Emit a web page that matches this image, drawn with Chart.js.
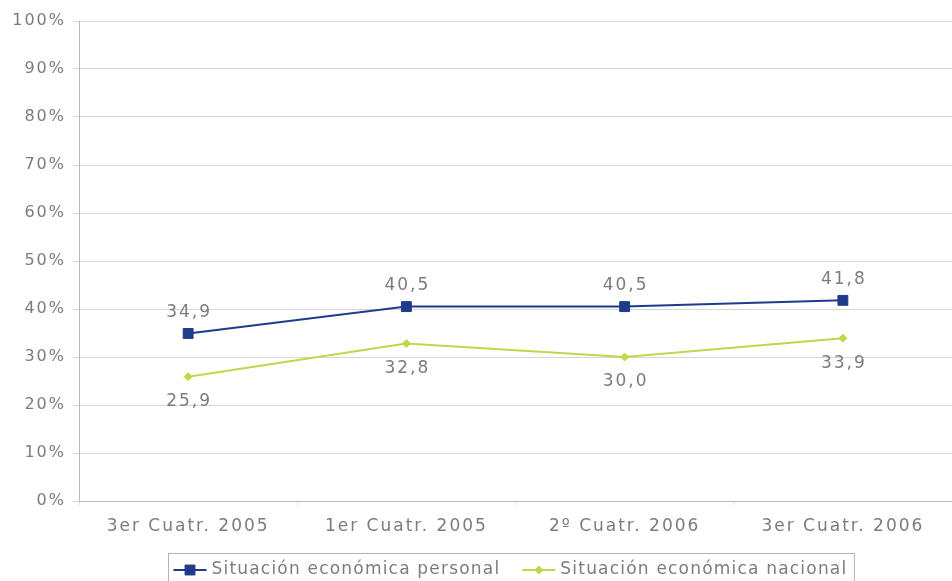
<!DOCTYPE html>
<html>
<head>
<meta charset="utf-8">
<script src="https://cdn.jsdelivr.net/npm/chart.js@4/dist/chart.umd.min.js"></script>
<style>
  html, body { margin: 0; padding: 0; background: #fff; overflow: hidden; }
  #wrap { width: 952px; height: 581px; position: relative; overflow: hidden; }
  /* a few px wider than the window: the line marker overflow pads the right side */
  #inner { width: 960px; height: 581px; position: absolute; left: 0; top: 0; }
</style>
</head>
<body>
<div id="wrap"><div id="inner"><canvas id="chart"></canvas></div></div>
<script>
// ---- data ----
const periods     = ["3er Cuatr. 2005", "1er Cuatr. 2005", "2º Cuatr. 2006", "3er Cuatr. 2006"];
const personal    = [34.9, 40.5, 40.5, 41.8];
const nacional    = [25.9, 32.8, 30.0, 33.9];
const seriesNames = ["Situación económica personal", "Situación económica nacional"];

const BLUE  = "#1f3b8c";
const GREEN = "#c3d64b";
const TEXT  = "#7c7c7c";
const FONT  = "'DejaVu Sans', Verdana, sans-serif";

// wide, airy lettering for every text on the canvas
const spacing = {
  id: "spacing",
  beforeUpdate(chart) { chart.ctx.letterSpacing = "2px"; },
  beforeDraw(chart)   { chart.ctx.letterSpacing = "2px"; }
};

// value labels: blue above the point, green below
const valueLabels = {
  id: "valueLabels",
  afterDatasetsDraw(chart) {
    const ctx = chart.ctx;
    ctx.save();
    ctx.font = "17px " + FONT;
    ctx.letterSpacing = "2px";
    ctx.fillStyle = TEXT;
    ctx.textAlign = "center";
    ctx.textBaseline = "middle";
    chart.data.datasets.forEach((ds, i) => {
      const dy = i === 0 ? -21 : 25;
      chart.getDatasetMeta(i).data.forEach((pt, j) => {
        ctx.fillText(ds.data[j].toFixed(1).replace(".", ","), pt.x + 1, pt.y + dy);
      });
    });
    ctx.restore();
  }
};

// boxed legend under the axis, line + marker per series
const boxLegend = {
  id: "boxLegend",
  afterDraw(chart) {
    const ctx = chart.ctx;
    ctx.save();
    ctx.font = "17px " + FONT;
    ctx.letterSpacing = "1.2px";
    ctx.textBaseline = "middle";
    const sw = 33, gap = 5, space = 22, padL = 5, padR = 7;
    const widths = seriesNames.map(n => sw + gap + ctx.measureText(n).width);
    const total = widths.reduce((a, b) => a + b, 0) + space + padL + padR;
    const area = chart.chartArea;
    const x0 = Math.round((area.left + area.right - total) / 2 - 5) + 0.5;
    const y0 = 553.5, h = 34;
    ctx.strokeStyle = "#b5b5b5";
    ctx.lineWidth = 1;
    ctx.strokeRect(x0, y0, total, h);
    let x = x0 + padL;
    const cy = 570;
    chart.data.datasets.forEach((ds, i) => {
      ctx.strokeStyle = ds.borderColor;
      ctx.fillStyle = ds.backgroundColor;
      ctx.lineWidth = 2;
      ctx.beginPath();
      ctx.moveTo(x, cy);
      ctx.lineTo(x + sw, cy);
      ctx.stroke();
      ctx.lineWidth = 1;
      Chart.helpers.drawPoint(ctx, {
        pointStyle: ds.pointStyle,
        radius: ds.pointRadius,
        borderWidth: 1
      }, x + sw / 2, cy);
      ctx.fillStyle = TEXT;
      ctx.fillText(seriesNames[i], x + sw + gap, cy);
      x += widths[i] + space;
    });
    ctx.restore();
  }
};

new Chart(document.getElementById("chart"), {
  type: "line",
  data: {
    labels: periods,
    datasets: [
      {
        label: seriesNames[0],
        data: personal,
        borderColor: BLUE,
        backgroundColor: BLUE,
        borderWidth: 2,
        pointStyle: "rect",
        pointRadius: 7,
        pointBorderWidth: 1,
        tension: 0
      },
      {
        label: seriesNames[1],
        data: nacional,
        borderColor: GREEN,
        backgroundColor: GREEN,
        borderWidth: 2,
        pointStyle: "rectRot",
        pointRadius: 4,
        pointBorderWidth: 1,
        tension: 0
      }
    ]
  },
  options: {
    responsive: true,
    maintainAspectRatio: false,
    animation: false,
    layout: { padding: { top: 21, left: 0, right: 0, bottom: 45 } },
    plugins: {
      legend: { display: false },
      tooltip: { enabled: false }
    },
    scales: {
      x: {
        offset: true,
        afterFit: s => { s.height = 35; s.paddingLeft = 0; s.paddingRight = 0; },
        ticks: { color: TEXT, font: { family: FONT, size: 17 }, padding: 11, maxRotation: 0 },
        grid: { offset: true, drawOnChartArea: false, tickLength: 4, color: "#e2e2e2" },
        border: { color: "#b8b8b8" }
      },
      y: {
        min: 0,
        max: 100,
        afterFit: s => { s.width = 79; s.paddingTop = 0; s.paddingBottom = 0; },
        ticks: {
          stepSize: 10,
          color: TEXT,
          font: { family: FONT, size: 16 },
          padding: 7,
          callback: v => v + "%"
        },
        grid: { color: "#d6d6d6", tickLength: 6 },
        border: { color: "#b8b8b8" }
      }
    }
  },
  plugins: [spacing, valueLabels, boxLegend]
});
</script>
</body>
</html>
